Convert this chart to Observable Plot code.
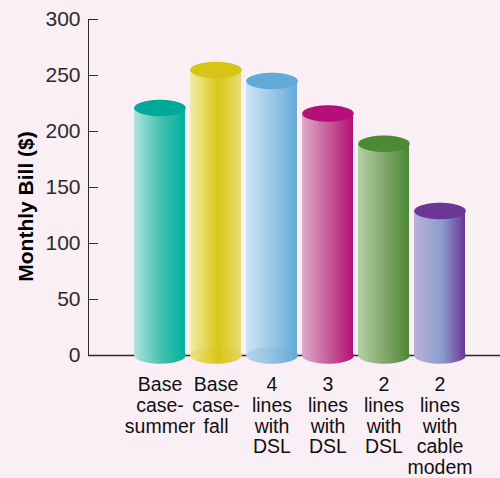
<!DOCTYPE html>
<html>
<head>
<meta charset="utf-8">
<script src="https://cdn.jsdelivr.net/npm/d3@7"></script>
<script src="https://cdn.jsdelivr.net/npm/@observablehq/plot@0.6"></script>
<style>
  html, body { margin: 0; padding: 0; background: #f9eff5; }
  #chart { width: 500px; height: 478px; }
  #chart svg g[aria-label^="y-axis"], #chart svg g[aria-label^="y-axis"] text { font-size: 21px !important; fill: #2a2a2a; }
</style>
</head>
<body>
<div id="chart"></div>
<script>
// ---- data ----
const categories = ["Base case-summer", "Base case-fall", "4 lines with DSL", "3 lines with DSL", "2 lines with DSL", "2 lines with cable modem"];
const tickLabels = ["Base\ncase-\nsummer", "Base\ncase-\nfall", "4\nlines\nwith\nDSL", "3\nlines\nwith\nDSL", "2\nlines\nwith\nDSL", "2\nlines\nwith\ncable\nmodem"];
const values = [221, 255, 245, 216, 189, 129];
const yTicks = [0, 50, 100, 150, 200, 250, 300];
// gradient colours per bar: [left, middle, right], and the top cap colour
const sideColors = [
  ["#b3e2db", "#3fc0ae", "#00b09e"],
  ["#f3eca9", "#d8c818", "#e7dc72"],
  ["#cfe3f3", "#99c6e6", "#63aad8"],
  ["#ddabca", "#c35896", "#b50d76"],
  ["#b7d0a7", "#7ea568", "#4d8836"],
  ["#bbb0d8", "#8a9dcc", "#6a3794"]
];
const topColors = ["#00a999", "#d6c515", "#62aad8", "#b5107a", "#4e8936", "#6b3795"];
const hollowBase = [false, true, true, false, false, false];

const data = categories.map((c, i) => ({cat: c, label: tickLabels[i], value: values[i], idx: i}));

// ellipse symbol for cylinder caps
const ellipse = {
  draw(ctx, size) {
    const rx = Math.sqrt(size / Math.PI), ry = rx * 0.32, k = 0.5523;
    ctx.moveTo(rx, 0);
    ctx.bezierCurveTo(rx, ry * k, rx * k, ry, 0, ry);
    ctx.bezierCurveTo(-rx * k, ry, -rx, ry * k, -rx, 0);
    ctx.bezierCurveTo(-rx, -ry * k, -rx * k, -ry, 0, -ry);
    ctx.bezierCurveTo(rx * k, -ry, rx, -ry * k, rx, 0);
    ctx.closePath();
  }
};
const R = 25.8;
const grad = d => `url(#cyl${d.idx})`;

const chart = Plot.plot({
  width: 500,
  height: 478,
  marginLeft: 88,
  marginRight: 0,
  marginTop: 19,
  marginBottom: 123,
  style: {background: "#f9eff5", fontFamily: "'Liberation Sans', Arial, sans-serif", fontSize: "21px", color: "#2a2a2a"},
  x: {domain: categories, paddingInner: 0.09, paddingOuter: 0.68, align: 0.57, axis: null},
  y: {domain: [0, 300], ticks: yTicks, tickSize: -10, tickPadding: 18, line: true, label: null},
  color: {type: "identity"},
  marks: [
    Plot.ruleY([0], {stroke: "#2a2a2a", strokeWidth: 1.5}),
    Plot.dot(data, {x: "cat", y: () => 0, r: R, symbol: ellipse, fill: grad, stroke: null}),
    Plot.barY(data, {x: "cat", y: "value", fill: grad}),
    Plot.dot(data.filter(d => hollowBase[d.idx]), {x: "cat", y: () => 0, r: R, symbol: ellipse, fill: d => topColors[d.idx], fillOpacity: 0.22, stroke: null}),
    Plot.dot(data, {x: "cat", y: "value", r: R, symbol: ellipse, fill: d => topColors[d.idx], stroke: null}),
    Plot.text(data, {x: "cat", frameAnchor: "bottom", text: "label", dy: 21, lineAnchor: "top", lineHeight: 1.06, fontSize: 19.5, fill: "#111"}),
    Plot.text(["Monthly Bill ($)"], {frameAnchor: "left", text: d => d, textAnchor: "middle", rotate: -90, dx: -62, dy: 19, fontSize: 21, fontWeight: "bold", fill: "#000"})
  ]
});

// gradient definitions
const svg = d3.select(chart.tagName.toLowerCase() === "svg" ? chart : chart.querySelector("svg"));
const defs = svg.insert("defs", ":first-child");
sideColors.forEach((cols, i) => {
  const g = defs.append("linearGradient").attr("id", `cyl${i}`).attr("x1", 0).attr("x2", 1).attr("y1", 0).attr("y2", 0);
  g.append("stop").attr("offset", "0%").attr("stop-color", cols[0]);
  g.append("stop").attr("offset", "55%").attr("stop-color", cols[1]);
  g.append("stop").attr("offset", "100%").attr("stop-color", cols[2]);
});

document.getElementById("chart").appendChild(chart);
</script>
</body>
</html>
